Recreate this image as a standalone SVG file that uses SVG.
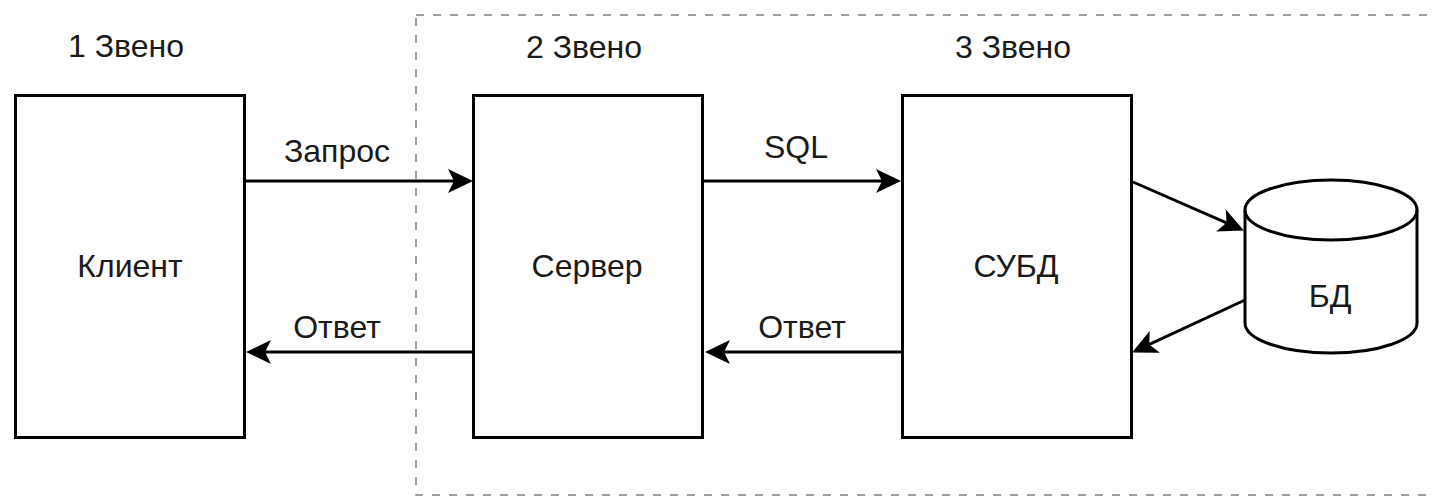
<svg xmlns="http://www.w3.org/2000/svg" width="1432" height="499" viewBox="0 0 1432 499">
<style>
text{font-family:"Liberation Sans",Arial,sans-serif;font-size:32px;fill:#1a1a1a}
.node{fill:#fff;stroke:#000;stroke-width:3}
.edge{fill:none;stroke:#000;stroke-width:3}
.zone{fill:none;stroke:#808080;stroke-width:1.5;stroke-dasharray:8 9}
</style>
<defs>
<marker id="arr" markerUnits="userSpaceOnUse" markerWidth="30" markerHeight="30" viewBox="-2 -14 30 28" refX="6" refY="0" orient="auto" overflow="visible">
<path d="M0,-12 L25,0 L0,12 L6,0 Z" fill="#000"/>
</marker>
</defs>
<rect class="zone" x="416" y="15" width="1030" height="480"/>
<g id="labels">
<text x="68" y="57">1 Звено</text>
<text x="526" y="58">2 Звено</text>
<text x="955" y="58">3 Звено</text>
</g>
<g id="client"><rect class="node" x="15.5" y="95.5" width="229" height="342"/><text x="130" y="277" text-anchor="middle">Клиент</text></g>
<g id="server"><rect class="node" x="473.5" y="95.5" width="229" height="342"/><text x="587" y="277" text-anchor="middle">Сервер</text></g>
<g id="dbms"><rect class="node" x="902.5" y="95.5" width="229" height="342"/><text x="1016" y="277" text-anchor="middle">СУБД</text></g>
<g id="db">
<path class="node" d="M1245,210 A86,30 0 0,1 1417,210 L1417,323 A86,30 0 0,1 1245,323 Z"/>
<path class="edge" d="M1245,210 A86,30 0 0,0 1417,210"/>
<text x="1330" y="307" text-anchor="middle">БД</text>
</g>
<g id="connectors">
<line class="edge" x1="244" y1="181" x2="454" y2="181" marker-end="url(#arr)"/>
<text x="337" y="162" text-anchor="middle">Запрос</text>
<line class="edge" x1="473" y1="352" x2="265" y2="352" marker-end="url(#arr)"/>
<text x="337" y="338" text-anchor="middle">Ответ</text>
<line class="edge" x1="702" y1="181" x2="882" y2="181" marker-end="url(#arr)"/>
<text x="796" y="158" text-anchor="middle">SQL</text>
<line class="edge" x1="902" y1="352" x2="724" y2="352" marker-end="url(#arr)"/>
<text x="802" y="338" text-anchor="middle">Ответ</text>
<line class="edge" x1="1133" y1="182" x2="1226.5" y2="222.8" marker-end="url(#arr)"/>
<line class="edge" x1="1245" y1="300" x2="1149.3" y2="344.4" marker-end="url(#arr)"/>
</g>
</svg>
